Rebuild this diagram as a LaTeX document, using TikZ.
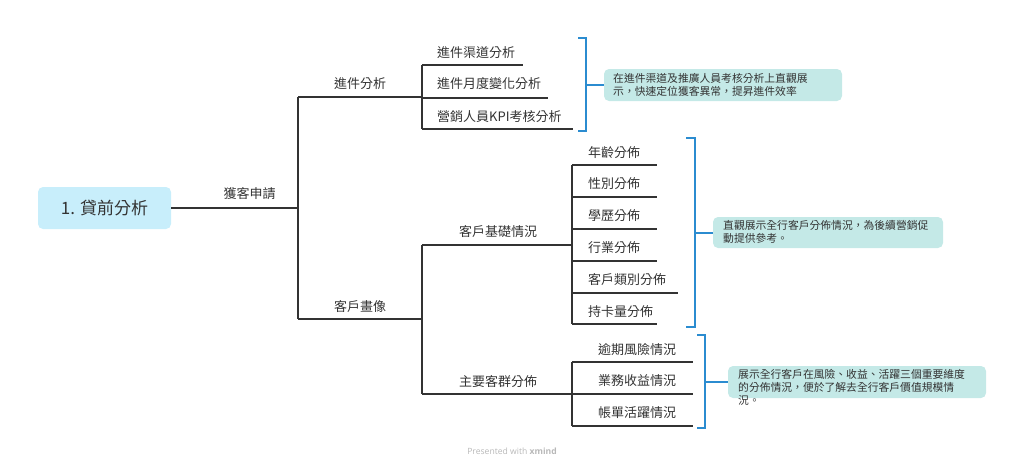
\documentclass[tikz,border=0pt]{standalone}
\usepackage{fontspec}
\setmainfont{Noto Sans CJK TC}
\newfontfamily\footfont{Open Sans}
\definecolor{rootfill}{HTML}{C8EEFB}
\definecolor{notefill}{HTML}{C4E9E7}
\definecolor{brk}{HTML}{2B8CD0}
\definecolor{ln}{HTML}{333333}
\definecolor{txt}{HTML}{333333}
\begin{document}
\begin{tikzpicture}[x=1pt,y=-1pt,
  conn/.style={draw=ln,line width=1.3pt},
  brack/.style={draw=brk,line width=1.5pt},
  rootbox/.style={fill=rootfill,rounded corners=5pt,minimum width=133pt,minimum height=42pt,inner sep=0pt,font=\fontsize{17}{20}\selectfont,text=txt},
  lbl/.style={inner sep=0pt,font=\fontsize{13}{15}\selectfont,text=txt},
  notebox/.style={fill=notefill,rounded corners=5pt},
  notetext/.style={inner sep=0pt,align=left,anchor=north west,font=\fontsize{10.8}{13}\selectfont,text=txt}]
\useasboundingbox (0,0) rectangle (1024,467);

% root
\node[rootbox] (root) at (104.5,208) {1. 貸前分析};
\coordinate (j1) at (298,208);
\draw[conn] (root.east) -- (j1);
\node[lbl] (l0) at (249.5,194) {獲客申請};

% level 1
\coordinate (b1) at (298,97);
\coordinate (b2) at (298,319);
\draw[conn] (b1) -- (b2);
\coordinate (j2) at (422,97);
\coordinate (j3) at (422,319);
\draw[conn] (b1) -- (j2);
\draw[conn] (b2) -- (j3);
\node[lbl] (l1) at (360,84) {進件分析};
\node[lbl] (l2) at (360,307) {客戶畫像};

% 進件分析 children
\coordinate (a0) at (422,65);
\coordinate (a1) at (422,129);
\draw[conn] (a0) -- (a1);
\coordinate (a0e) at (523,65);
\coordinate (a1m) at (422,98);
\coordinate (a1me) at (548,98);
\coordinate (a2e) at (573,129);
\draw[conn] (a0) -- (a0e);
\draw[conn] (a1m) -- (a1me);
\draw[conn] (a1) -- (a2e);
\node[lbl,anchor=west] (c1) at (437,53) {進件渠道分析};
\node[lbl,anchor=west] (c2) at (437,84) {進件月度變化分析};
\node[lbl,anchor=west] (c3) at (437,117) {營銷人員KPI考核分析};

% 客戶畫像 children
\coordinate (p0) at (422,245);
\coordinate (p1) at (422,394);
\draw[conn] (p0) -- (p1);
\coordinate (q0) at (572,245);
\coordinate (q1) at (572,394);
\draw[conn] (p0) -- (q0);
\draw[conn] (p1) -- (q1);
\node[lbl] (l3) at (498,232) {客戶基礎情況};
\node[lbl] (l4) at (498,382) {主要客群分佈};

% 客戶基礎情況 children
\coordinate (r0) at (572,165);
\coordinate (r5) at (572,324);
\draw[conn] (r0) -- (r5);
\foreach \y/\e in {165/657,197/657,229/657,261/657,293/678,324/657}{
  \draw[conn] (572,\y) -- (\e,\y);
}
\node[lbl,anchor=west] (d1) at (588,153) {年齡分佈};
\node[lbl,anchor=west] (d2) at (588,184) {性別分佈};
\node[lbl,anchor=west] (d3) at (588,216) {學歷分佈};
\node[lbl,anchor=west] (d4) at (588,248) {行業分佈};
\node[lbl,anchor=west] (d5) at (588,280) {客戶類別分佈};
\node[lbl,anchor=west] (d6) at (588,312) {持卡量分佈};

% 主要客群分佈 children
\coordinate (s0) at (572,362);
\coordinate (s2) at (572,426);
\draw[conn] (s0) -- (s2);
\foreach \y in {362,394,426}{
  \draw[conn] (572,\y) -- (693,\y);
}
\node[lbl,anchor=west] (e1) at (598,350) {逾期風險情況};
\node[lbl,anchor=west] (e2) at (598,381) {業務收益情況};
\node[lbl,anchor=west] (e3) at (598,413) {帳單活躍情況};

% brackets & notes
\draw[brack] (578,38) -- (586,38) -- (586,131) -- (578,131);
\path[notebox] (604,69) rectangle (842,101);
\node[notetext] (n1) at (613,73) {在進件渠道及推廣人員考核分析上直觀展\\示，快速定位獲客異常，提昇進件效率};
\coordinate (m1) at (586,85);
\draw[brack] (m1) -- (604,85);

\draw[brack] (686,138) -- (695,138) -- (695,327) -- (686,327);
\path[notebox] (713,217) rectangle (943,248);
\node[notetext] (n2) at (723,220.5) {直觀展示全行客戶分佈情況，為後續營銷促\\動提供參考。};
\coordinate (m2) at (695,233);
\draw[brack] (m2) -- (713,233);

\draw[brack] (697,335) -- (705,335) -- (705,428) -- (697,428);
\path[notebox] (728,366) rectangle (986,398);
\node[notetext] (n3) at (738,369.5) {展示全行客戶在風險、收益、活躍三個重要維度\\的分佈情況，便於了解去全行客戶價值規模情\\況。};
\coordinate (m3) at (705,382);
\draw[brack] (m3) -- (728,382);

% footer
\node[inner sep=0pt,font=\footfont\fontsize{8.6}{10}\selectfont,text=black!28] (foot) at (512,451) {Presented with \textbf{xmind}};
\end{tikzpicture}
\end{document}
